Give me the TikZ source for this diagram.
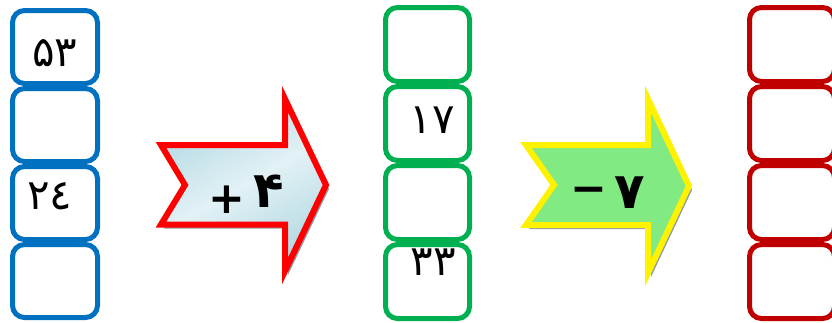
\documentclass[tikz,border=0pt]{standalone}
\usepackage{fontspec}
\newfontfamily\arabicfont[Script=Arabic]{DejaVu Sans}
\definecolor{cblue}{HTML}{0070C0}
\definecolor{cgreen}{HTML}{00B050}
\definecolor{cred}{HTML}{C00000}
\definecolor{shadowc}{HTML}{8D9AA6}
\definecolor{lblue}{HTML}{B3DAE3}
\definecolor{lblue2}{HTML}{E2F1F5}
\definecolor{lgreen}{HTML}{82EA82}
\tikzset{
  cell/.style={draw, line width=5pt, rounded corners=12pt, inner sep=0pt, minimum width=85pt},
  digit/.style={font=\arabicfont\fontsize{42}{46}\selectfont, inner sep=0pt},
  opdigit/.style={font=\arabicfont\bfseries\fontsize{50}{54}\selectfont, inner sep=0pt},
  opsign/.style={font=\arabicfont\bfseries\fontsize{44}{48}\selectfont, inner sep=0pt},
  arrowborder/.style={line width=6pt, line join=miter},
}
\begin{document}
\begin{tikzpicture}[x=1pt,y=-1pt]
\useasboundingbox (0,0) rectangle (832,322);
% blue column
\node[cell, draw=cblue, minimum height=73pt] (b1) at (55,47) {};
\node[cell, draw=cblue, minimum height=73pt] (b2) at (55,125) {};
\node[cell, draw=cblue, minimum height=73pt] (b3) at (55,203) {};
\node[cell, draw=cblue, minimum height=73pt] (b4) at (55,281) {};
\node[digit] (t1) at (55,53) {۵۳};
\node[digit] (t2) at (50,196) {۲٤};
% green column
\node[cell, draw=cgreen, minimum width=84pt, minimum height=74pt] (g1) at (427.5,44.5) {};
\node[cell, draw=cgreen, minimum width=84pt, minimum height=74pt] (g2) at (427.5,123.5) {};
\node[cell, draw=cgreen, minimum width=84pt, minimum height=74pt] (g3) at (427.5,202.5) {};
\node[cell, draw=cgreen, minimum width=84pt, minimum height=74pt] (g4) at (427.5,281.5) {};
\node[digit] (t3) at (432,120) {۱۷};
\node[digit] (t4) at (433,262) {۳۳};
% red column
\node[cell, draw=cred, minimum height=74pt] (r1) at (792,44.5) {};
\node[cell, draw=cred, minimum height=74pt] (r2) at (792,123.5) {};
\node[cell, draw=cred, minimum height=74pt] (r3) at (792,202.5) {};
\node[cell, draw=cred, minimum height=74pt] (r4) at (792,281.5) {};
% arrow 1
\fill[shadowc, shift={(3pt,-4pt)}] (161,145) -- (285,145) -- (285,99) -- (326,185) -- (285,271) -- (285,224.5) -- (161,224.5) -- (185,185) -- cycle;
\shade[top color=lblue, bottom color=lblue, middle color=lblue2, shading angle=30]
  (161,145) -- (285,145) -- (285,99) -- (326,185) -- (285,271) -- (285,224.5) -- (161,224.5) -- (185,185) -- cycle;
\draw[arrowborder, draw=red]
  (161,145) -- (285,145) -- (285,99) -- (326,185) -- (285,271) -- (285,224.5) -- (161,224.5) -- (185,185) -- cycle;
\node[opsign] (s1) at (226.5,200) {+};
\node[opdigit] (op1) at (269,191.5) {۴};
% arrow 2
\fill[shadowc, shift={(3pt,-4pt)}] (526,145) -- (648,145) -- (648,99) -- (689,186) -- (648,273) -- (648,225) -- (526,225) -- (554,185) -- cycle;
\filldraw[arrowborder, draw=yellow, fill=lgreen]
  (526,145) -- (648,145) -- (648,99) -- (689,186) -- (648,273) -- (648,225) -- (526,225) -- (554,185) -- cycle;
\node[opsign] (s2) at (589,195) {−};
\node[opdigit] (op2) at (630,192.5) {۷};
\end{tikzpicture}
\end{document}
